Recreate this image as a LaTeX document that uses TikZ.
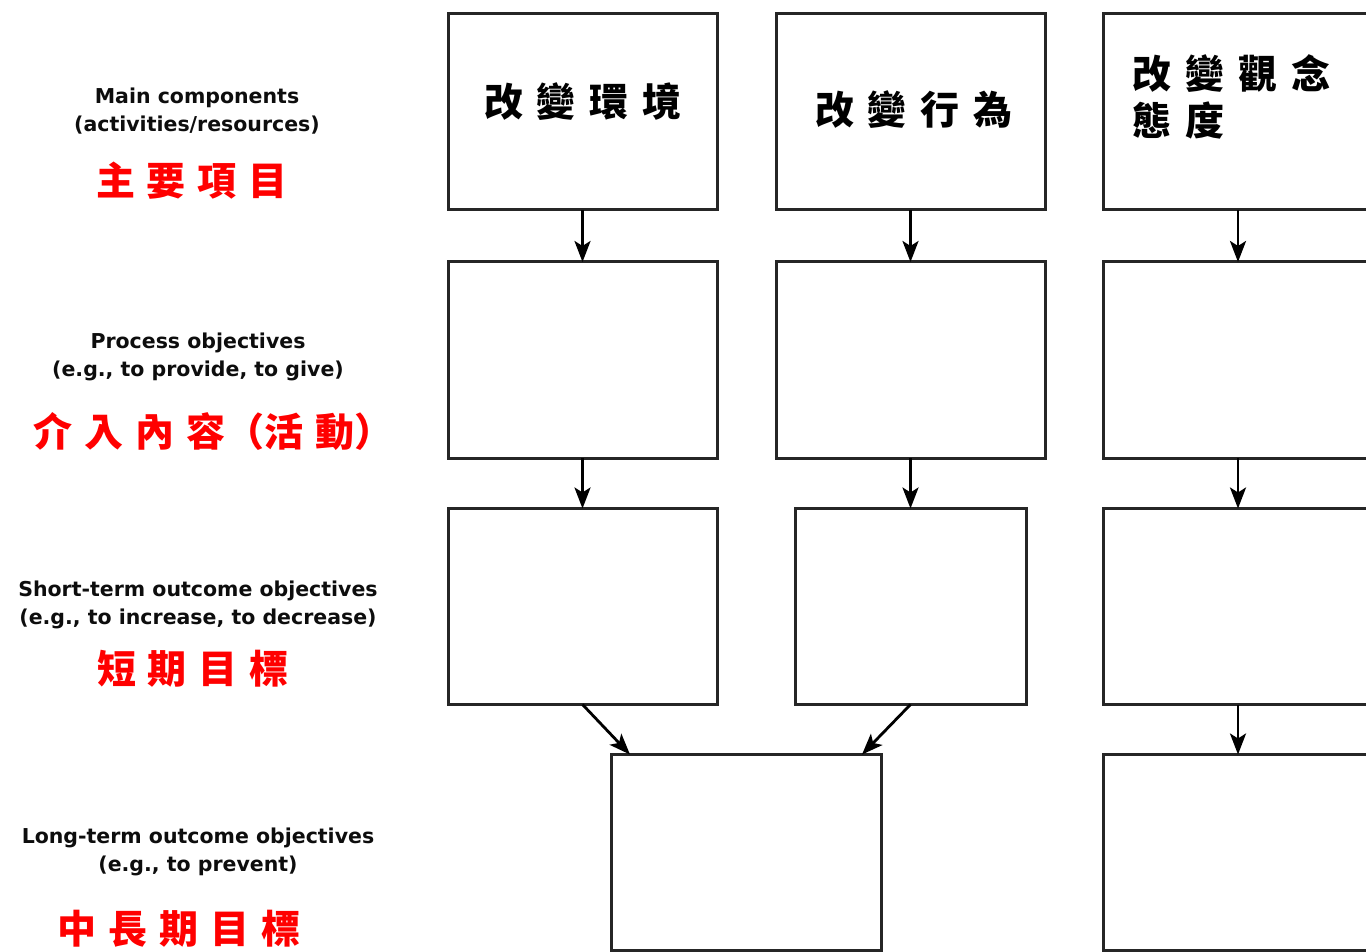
\documentclass[tikz,border=0pt]{standalone}
\usepackage{fontspec}
\setmainfont{DejaVu Sans}
\newfontfamily\cjk{Noto Sans CJK TC}[BoldFont={* Black}]
\usetikzlibrary{arrows.meta}
\newcommand\gapA{\kern14pt}
\newcommand\gapB{\kern12pt}
\tikzset{
  box/.style={draw=black!85, line width=3pt, fill=white, minimum width=269pt, minimum height=196pt, inner sep=0pt, outer sep=0pt},
  arr/.style={line width=2.8pt, draw=black, -{Stealth[length=21pt,width=16pt,inset=5pt]}},
  eng/.style={font=\bfseries\fontsize{20.5}{28}\selectfont, align=center, text=black!95, inner sep=0pt},
  red/.style={font=\cjk\bfseries\fontsize{39}{42}\selectfont, text=red, inner sep=0pt},
  btext/.style={font=\cjk\bfseries\fontsize{39}{47}\selectfont, text=black, inner sep=0pt, align=left},
}
\begin{document}
\begin{tikzpicture}[x=1pt,y=-1pt]
\useasboundingbox (0,0) rectangle (1366,952);
\clip (0,0) rectangle (1366,952);
% boxes
\node[box] (b11) at (582.5,112) {};
\node[box] (b12) at (910.5,112) {};
\node[box] (b13) at (1238,112) {};
\node[box] (b21) at (582.5,360) {};
\node[box] (b22) at (910.5,360) {};
\node[box] (b23) at (1238,360) {};
\node[box] (b31) at (582.5,606.5) {};
\node[box, minimum width=231pt] (b32) at (910.5,606.5) {};
\node[box] (b33) at (1238,606.5) {};
\node[box, minimum width=270pt] (b41) at (746,852.5) {};
\node[box] (b43) at (1238,852.5) {};
% box texts
\node[btext] (t1) at (583,102) {改\gapA 變\gapA 環\gapA 境};
\node[btext] (t2) at (914,110) {改\gapA 變\gapA 行\gapA 為};
\node[btext, anchor=north west] (t3) at (1132,54) {改\gapA 變\gapA 觀\gapA 念\\態\gapA 度};
% arrows
\draw[arr] (b11.south) -- (b21.north);
\draw[arr] (b12.south) -- (b22.north);
\draw[arr] (b13.south) -- (b23.north);
\draw[arr] (b21.south) -- (b31.north);
\draw[arr] (b22.south) -- (b32.north);
\draw[arr] (b23.south) -- (b33.north);
\draw[arr] (b31.south) -- ([xshift=19pt]b41.north west);
\draw[arr] (b32.south) -- ([xshift=-19pt]b41.north east);
\draw[arr] (b33.south) -- (b43.north);
% left labels
\node[eng] (l1) at (197,111) {Main components\\(activities/resources)};
\node[red] (r1) at (192,181) {主\gapB 要\gapB 項\gapB 目};
\node[eng] (l2) at (198,357) {Process objectives\\(e.g., to provide, to give)};
\node[red] (r2) at (214,432) {介\gapB 入\gapB 內\gapB 容（活\gapB 動）};
\node[eng] (l3) at (198,605) {Short-term outcome objectives\\(e.g., to increase, to decrease)};
\node[red] (r3) at (193,669) {短\gapB 期\gapB 目\gapB 標};
\node[eng] (l4) at (198,852) {Long-term outcome objectives\\(e.g., to prevent)};
\node[red] (r4) at (179,929) {中\gapB 長\gapB 期\gapB 目\gapB 標};
\end{tikzpicture}
\end{document}
